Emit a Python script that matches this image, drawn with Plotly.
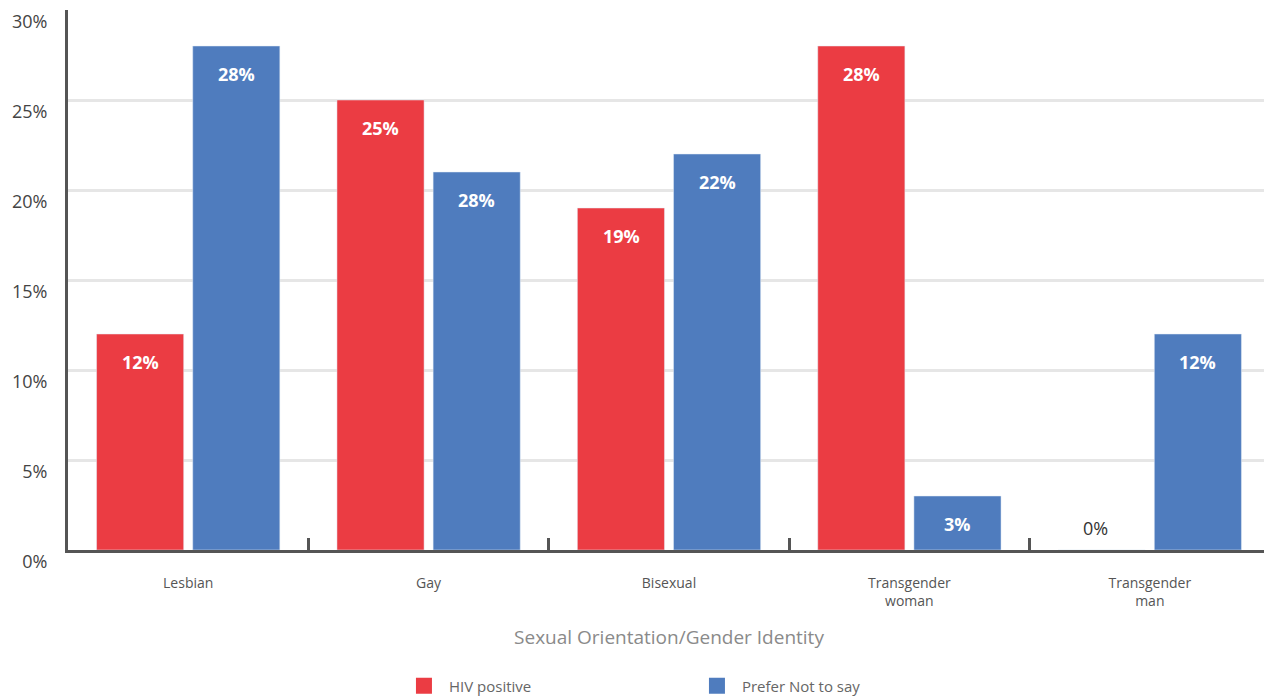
import plotly.graph_objects as go

categories = ["Lesbian", "Gay", "Bisexual", "Transgender<br>woman", "Transgender<br>man"]
hiv_positive = [12, 25, 19, 28, 0]
prefer_not = [28, 21, 22, 3, 12]
hiv_labels = ["12%", "25%", "19%", "28%", "0%"]
prefer_labels = ["28%", "28%", "22%", "3%", "12%"]
y_ticks = [0, 5, 10, 15, 20, 25, 30]
y_tick_text = ["0%", "5%", "10%", "15%", "20%", "25%", "30%"]

RED = "#EB3C43"
BLUE = "#4F7CBE"
FONT = "Open Sans"

fig = go.Figure()
fig.add_trace(go.Bar(x=categories, y=hiv_positive, marker_color=RED, showlegend=False, name="HIV positive"))
fig.add_trace(go.Bar(x=categories, y=prefer_not, marker_color=BLUE, showlegend=False, name="Prefer Not to say"))
# legend entries
fig.add_trace(go.Scatter(x=[None], y=[None], mode="markers", name="HIV positive",
                         marker=dict(symbol="square", size=22, color=RED)))
fig.add_trace(go.Scatter(x=[None], y=[None], mode="markers", name="Prefer Not to say",
                         marker=dict(symbol="square", size=22, color=BLUE)))

annotations = []
for cat, v, lab in zip(categories, hiv_positive, hiv_labels):
    if v > 0:
        annotations.append(dict(x=cat, y=v, xref="x", yref="y", text=f"<b>{lab}</b>", showarrow=False,
                                xshift=-48, yshift=-28, font=dict(color="white", size=18, family=FONT)))
    else:
        annotations.append(dict(x=cat, y=v, xref="x", yref="y", text=lab, showarrow=False,
                                xshift=-54, yshift=22, font=dict(color="#333333", size=18, family=FONT)))
for cat, v, lab in zip(categories, prefer_not, prefer_labels):
    annotations.append(dict(x=cat, y=v, xref="x", yref="y", text=f"<b>{lab}</b>", showarrow=False,
                            xshift=48, yshift=-28, font=dict(color="white", size=18, family=FONT)))

fig.update_layout(
    width=1264, height=689,
    margin=dict(l=60, r=2, t=2, b=147),
    plot_bgcolor="white", paper_bgcolor="white",
    barmode="group", bargap=0.2, bargroupgap=0.094,
    font=dict(family=FONT, color="#555555"),
    annotations=annotations,
    legend=dict(orientation="h", xref="container", yref="container", x=0.3093, y=0.016,
                xanchor="left", yanchor="middle", entrywidth=238, itemwidth=40,
                font=dict(size=15, color="#666666", family=FONT)),
    xaxis=dict(
        automargin=False,
        showline=True, linecolor="#555555", linewidth=3,
        ticks="inside", tickson="boundaries", ticklen=12, tickwidth=3, tickcolor="#555555",
        tickfont=dict(size=14, color="#555555", family=FONT),
        ticklabelstandoff=18,
        title=dict(text="Sexual Orientation/Gender Identity", standoff=22,
                   font=dict(size=19, color="#8a8a8a", family=FONT)),
    ),
    yaxis=dict(
        automargin=False,
        range=[0, 30], tickvals=y_ticks, ticktext=y_tick_text,
        showline=True, linecolor="#555555", linewidth=3,
        showgrid=True, gridcolor="#E6E6E6", gridwidth=3, zeroline=False,
        ticks="", tickfont=dict(size=18, color="#444444", family=FONT),
        ticklabelshift=12, ticklabelstandoff=14,
    ),
)

fig.write_html("out.html")
